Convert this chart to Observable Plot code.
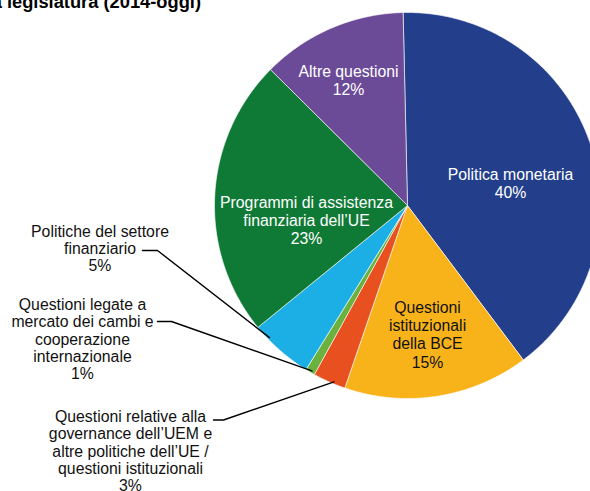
<!DOCTYPE html>
<html>
<head>
<meta charset="utf-8">
<script src="https://cdn.jsdelivr.net/npm/d3@7"></script>
<script src="https://cdn.jsdelivr.net/npm/@observablehq/plot@0.6"></script>
<style>
  html, body { margin: 0; padding: 0; background: #fff; }
</style>
</head>
<body>
<div id="chart"></div>
<script>
// ---- data ----
const categories = [
  "Politica monetaria",
  "Questioni istituzionali della BCE",
  "Questioni relative alla governance dell’UEM e altre politiche dell’UE / questioni istituzionali",
  "Questioni legate a mercato dei cambi e cooperazione internazionale",
  "Politiche del settore finanziario",
  "Programmi di assistenza finanziaria dell’UE",
  "Altre questioni"
];
const shares = [40.1, 15.5, 2.75, 0.8, 5.3, 23.3, 12.2];
const pctLabels = ["40%", "15%", "3%", "1%", "5%", "23%", "12%"];
const labelLines = [
  ["Politica monetaria"],
  ["Questioni", "istituzionali", "della BCE"],
  ["Questioni relative alla", "governance dell’UEM e", "altre politiche dell’UE /", "questioni istituzionali"],
  ["Questioni legate a", "mercato dei cambi e", "cooperazione", "internazionale"],
  ["Politiche del settore", "finanziario"],
  ["Programmi di assistenza", "finanziaria dell’UE"],
  ["Altre questioni"]
];
const titleText = "della legislatura (2014-oggi)";

// ---- styles / layout ----
const colors = ["#233f8b", "#f8b31b", "#e8501f", "#6ab23d", "#1cafe5", "#0f7a36", "#6b4b98"];
const W = 590, H = 491;
const cx = 407, cy = 205, R = 193;
const startDeg = -1.3;
const labelPos = [
  {x: 510, y: 183, fill: "white", lh: 1.15},
  {x: 427, y: 334, fill: "#111", lh: 1.15},
  {x: 130, y: 450.5, fill: "#111", lh: 1.1},
  {x: 82, y: 338.5, fill: "#111", lh: 1.1},
  {x: 99.5, y: 248, fill: "#111", lh: 1.1},
  {x: 306, y: 220, fill: "white", lh: 1.12},
  {x: 348, y: 80, fill: "white", lh: 1.15}
];
// leader lines for outside labels: start of horizontal tick, its length, anchor position within the slice
const leaders = [
  {i: 2, x: 213, y: 419.5, len: 10, frac: 0.37, rf: 0.99},
  {i: 3, x: 157, y: 321, len: 14, frac: 0.4, rf: 0.99},
  {i: 4, x: 142, y: 250, len: 15, frac: 0.76, rf: 0.99}
];

const toRad = d => d * Math.PI / 180;
const arcs = d3.pie().sort(null).value(d => d)
  .startAngle(toRad(startDeg)).endAngle(toRad(startDeg) + 2 * Math.PI)(shares);

const pt = (a, r) => [cx + r * Math.sin(a), cy - r * Math.cos(a)];

// slice polygons
const slices = [];
arcs.forEach((a, i) => {
  slices.push({i, cat: categories[i], x: cx, y: cy});
  const n = Math.max(2, Math.ceil((a.endAngle - a.startAngle) / toRad(0.5)));
  for (let k = 0; k <= n; k++) {
    const ang = a.startAngle + (a.endAngle - a.startAngle) * k / n;
    const [x, y] = pt(ang, R);
    slices.push({i, cat: categories[i], x, y});
  }
  slices.push({i, cat: categories[i], x: cx, y: cy});
});

// leader rows
const leaderRows = [];
leaders.forEach((L, k) => {
  const a = arcs[L.i];
  const ang = a.startAngle + (a.endAngle - a.startAngle) * L.frac;
  const [ax, ay] = pt(ang, R * L.rf);
  leaderRows.push({k, x: L.x, y: L.y});
  leaderRows.push({k, x: L.x + L.len, y: L.y});
  leaderRows.push({k, x: ax, y: ay});
});

const labels = categories.map((c, i) => ({
  i,
  text: labelLines[i].concat([pctLabels[i]]).join("\n"),
  x: labelPos[i].x, y: labelPos[i].y, fill: labelPos[i].fill, lh: labelPos[i].lh
}));

const font = "Arial, 'Liberation Sans', Helvetica, sans-serif";

const textMarks = labels.map(l =>
  Plot.text([l], {x: "x", y: "y", text: "text", fill: l.fill, fontSize: 15.8, lineHeight: l.lh,
    lineAnchor: "middle", textAnchor: "middle", fontFamily: font})
);

const chart = Plot.plot({
  width: W, height: H,
  margin: 0,
  x: {domain: [0, W], range: [0, W], axis: null},
  y: {domain: [0, H], range: [0, H], axis: null},
  color: {domain: categories, range: colors},
  style: {fontFamily: font, background: "white"},
  marks: [
    Plot.line(slices, {x: "x", y: "y", z: "i", fill: "cat", stroke: "white", strokeWidth: 0.6, curve: "linear"}),
    Plot.line(leaderRows, {x: "x", y: "y", z: "k", stroke: "black", strokeWidth: 1.4, curve: "linear"}),
    ...textMarks,
    Plot.text([titleText], {x: () => 200.5, y: () => 7.5, text: d => d, textAnchor: "end", lineAnchor: "bottom", fontSize: 18.3, fontWeight: "bold", fill: "black", fontFamily: font})
  ]
});
document.getElementById("chart").appendChild(chart);
</script>
</body>
</html>
